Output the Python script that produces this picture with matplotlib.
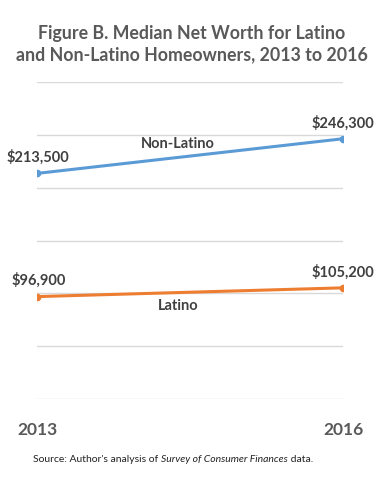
import matplotlib
matplotlib.use("Agg")
import matplotlib.pyplot as plt

years = ["2013", "2016"]
non_latino = [213500, 246300]
latino = [96900, 105200]
series_names = ["Non-Latino", "Latino"]

plt.rcParams['font.family'] = ['Lato', 'DejaVu Sans']

fig = plt.figure(figsize=(3.84, 4.82), dpi=100)
ax = fig.add_axes([37 / 384, 83 / 482, 306 / 384, 317 / 482])

x = [0, 1]
ax.plot(x, non_latino, color='#5b9bd5', lw=2.2, marker='o', ms=4.5, zorder=3)
ax.plot(x, latino, color='#ed7d31', lw=2.2, marker='o', ms=4.5, zorder=3)

ax.set_xlim(0, 1)
ax.set_ylim(0, 300000)
ax.set_yticks(range(0, 300001, 50000))
ax.yaxis.grid(True, color='#d9d9d9', lw=1)
ax.set_axisbelow(True)
ax.tick_params(axis='y', left=False, labelleft=False)
ax.tick_params(axis='x', bottom=False, pad=13)
ax.set_xticks(x)
ax.set_xticklabels(years, fontsize=12.5, fontweight='bold', color='#595959')
for s in ax.spines.values():
    s.set_visible(False)

lab = dict(fontsize=10.5, fontweight='bold', color='#404040', ha='center', va='bottom')
for vals in (non_latino, latino):
    ax.annotate(f"${vals[0]:,}", (0, vals[0]), xytext=(1, 6), textcoords='offset points', **lab)
    ax.annotate(f"${vals[1]:,}", (1, vals[1]), xytext=(0, 6), textcoords='offset points', **lab)

ax.text(0.46, 241000, series_names[0], fontsize=10.5, fontweight='bold', color='#404040',
        ha='center', va='center')
ax.text(0.46, 88000, series_names[1], fontsize=10.5, fontweight='bold', color='#404040',
        ha='center', va='center')

fig.text(0.5, 1 - 44 / 482, "Figure B. Median Net Worth for Latino\nand Non-Latino Homeowners, 2013 to 2016",
         ha='center', va='center', fontsize=12.8, fontweight='bold', color='#595959', linespacing=1.32)

# source line with italic part
fig.canvas.draw()
r = fig.canvas.get_renderer()
parts = [("Source: Author's analysis of ", 'normal'), ("Survey of Consumer Finances", 'italic'), (" data.", 'normal')]
xpos = 33
for txt, style in parts:
    t = fig.text(xpos / 384, 1 - 459 / 482, txt, fontsize=7.5, style=style, color='#222222',
                 ha='left', va='center')
    xpos += t.get_window_extent(r).width

fig.savefig("out.png", dpi=100)
